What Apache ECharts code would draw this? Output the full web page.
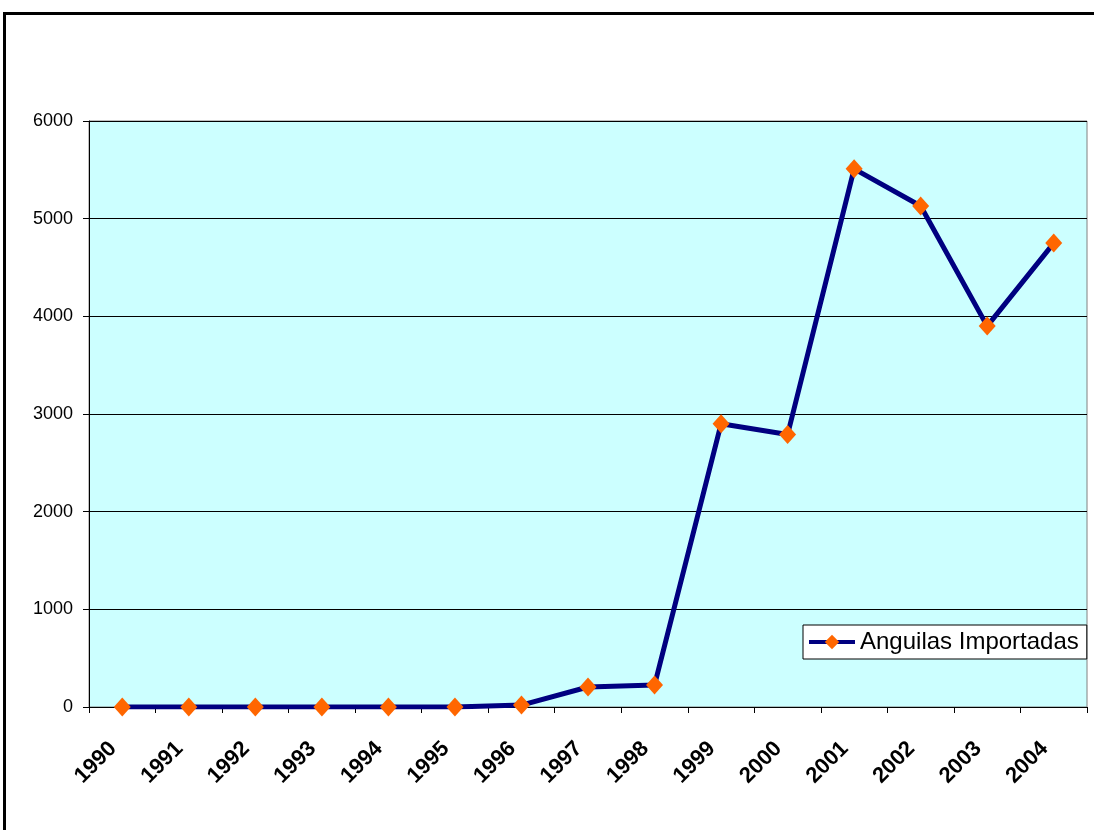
<!DOCTYPE html>
<html>
<head>
<meta charset="utf-8">
<script src="https://cdn.jsdelivr.net/npm/echarts@6/dist/echarts.min.js"></script>
<style>
    html, body { margin: 0; padding: 0; background: #fff; }
    #lineChart { width: 1094px; height: 830px; }
</style>
</head>
<body>
<div id="lineChart"></div>
<script>
    // datos
    const years = ['1990', '1991', '1992', '1993', '1994', '1995', '1996', '1997',
        '1998', '1999', '2000', '2001', '2002', '2003', '2004'];
    const anguilas = [0, 0, 0, 0, 0, 0, 20, 205, 225, 2900, 2790, 5510, 5130, 3900, 4750];
    const seriesName = 'Anguilas Importadas';

    const chart = echarts.init(document.getElementById('lineChart'));
    const font = '"Liberation Sans", Arial, sans-serif';

    const option = {
        animation: false,
        backgroundColor: '#fff',
        textStyle: { fontFamily: font },
        graphic: [{
            type: 'rect',
            shape: { x: 4.5, y: 13.5, width: 1100, height: 840 },
            style: { fill: 'none', stroke: '#000', lineWidth: 3 },
            z: 100
        }],
        grid: {
            left: 89,
            top: 121,
            right: 7,
            bottom: 123,
            show: true,
            backgroundColor: '#ccffff',
            borderColor: '#808080',
            borderWidth: 1
        },
        legend: {
            left: 803,
            top: 625,
            orient: 'vertical',
            backgroundColor: '#fff',
            borderColor: '#000',
            borderWidth: 1,
            borderRadius: 0,
            padding: [5, 8, 5, 4],
            itemWidth: 46,
            itemHeight: 18,
            itemGap: 0,
            lineStyle: { width: 4 },
            textStyle: { fontSize: 24, color: '#000', fontFamily: font },
            data: [{ name: seriesName }]
        },
        xAxis: {
            type: 'category',
            data: years,
            boundaryGap: true,
            axisLine: { lineStyle: { color: '#000', width: 1 } },
            axisTick: { show: true, length: 6, lineStyle: { color: '#000' } },
            axisLabel: {
                rotate: 45,
                margin: 29,
                padding: [0, 13, 0, 0],
                color: '#000',
                fontSize: 22,
                fontWeight: 'bold',
                fontFamily: font,
                interval: 0
            },
            splitLine: { show: false }
        },
        yAxis: {
            type: 'value',
            min: 0,
            max: 6000,
            interval: 1000,
            axisLine: { show: true, lineStyle: { color: '#000', width: 1 } },
            axisTick: { show: true, length: 6, lineStyle: { color: '#000' } },
            axisLabel: {
                color: '#000',
                fontSize: 18,
                margin: 16,
                fontFamily: font,
                formatter: function (v) { return String(v); }
            },
            splitLine: { show: true, lineStyle: { color: '#000', width: 1 } }
        },
        series: [{
            name: seriesName,
            type: 'line',
            data: anguilas,
            symbol: 'diamond',
            symbolSize: [17, 19],
            lineStyle: { color: '#000080', width: 5 },
            itemStyle: { color: '#ff6600', borderWidth: 0 },
            z: 5
        }]
    };

    chart.setOption(option);
</script>
</body>
</html>
